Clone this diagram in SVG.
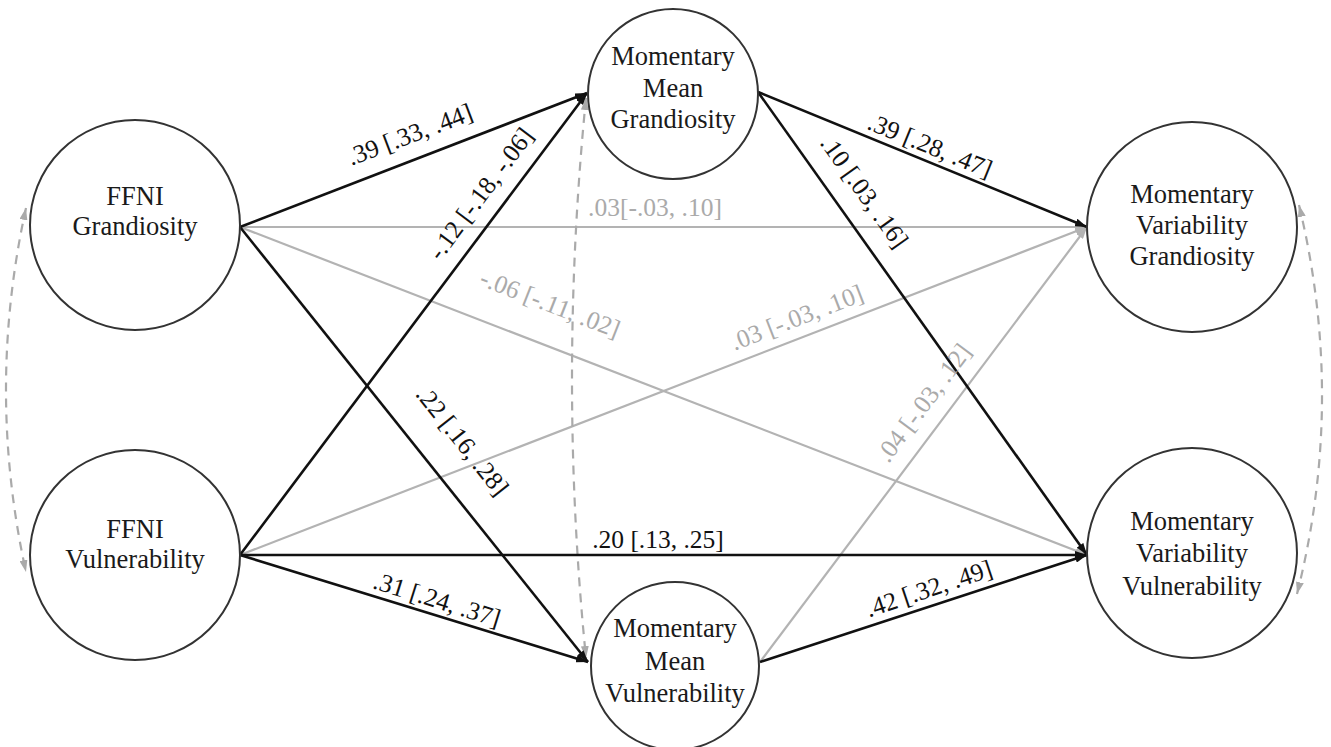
<svg xmlns="http://www.w3.org/2000/svg" width="1331" height="747" viewBox="0 0 1331 747">
  <style>
    .node circle { fill: #ffffff; stroke: #333333; stroke-width: 2; }
    .node text { font-family: "Liberation Serif", "Times New Roman", serif; font-size: 26.5px; fill: #1a1a1a; text-anchor: middle; }
    .sig { stroke: #111111; stroke-width: 2.6; fill: none; }
    .ns { stroke: #b3b3b3; stroke-width: 2.2; fill: none; }
    .cov { stroke: #aaaaaa; stroke-width: 2.2; fill: none; stroke-dasharray: 9 7; }
    .lbl { font-family: "Liberation Serif", "Times New Roman", serif; font-size: 25.5px; text-anchor: middle; fill: #111111; }
    .lbl.grey { fill: #aaaaaa; }
  </style>
  <defs>
    <marker id="arrowDark" viewBox="0 0 12 8" refX="12" refY="4" markerWidth="12" markerHeight="8" markerUnits="userSpaceOnUse" orient="auto">
      <path d="M0,0 L12,4 L0,8 z" fill="#111111"/>
    </marker>
    <marker id="arrowGrey" viewBox="0 0 12 8" refX="12" refY="4" markerWidth="12" markerHeight="8" markerUnits="userSpaceOnUse" orient="auto">
      <path d="M0,0 L12,4 L0,8 z" fill="#b3b3b3"/>
    </marker>
    <marker id="arrowCov" viewBox="0 0 12 8" refX="12" refY="4" markerWidth="12" markerHeight="8" markerUnits="userSpaceOnUse" orient="auto-start-reverse">
      <path d="M0,0 L12,4 L0,8 z" fill="#aaaaaa"/>
    </marker>
  </defs>

  <!-- paths between the latent variables -->
  <g id="connectors">
    <!-- non-significant paths (grey) -->
    <line class="ns" x1="240" y1="227" x2="1087" y2="227" marker-end="url(#arrowGrey)"/>
    <line class="ns" x1="240" y1="227" x2="1087" y2="555" marker-end="url(#arrowGrey)"/>
    <line class="ns" x1="240" y1="555" x2="1087" y2="227" marker-end="url(#arrowGrey)"/>
    <line class="ns" x1="760" y1="662" x2="1087" y2="227" marker-end="url(#arrowGrey)"/>

    <!-- covariances (dashed, two-headed) -->
    <path class="cov" d="M586,98 Q558,380 586,658" marker-start="url(#arrowCov)" marker-end="url(#arrowCov)"/>
    <path class="cov" d="M26,208 Q-14,390 26,572" marker-start="url(#arrowCov)" marker-end="url(#arrowCov)"/>
    <path class="cov" d="M1299,205 Q1346,400 1297,594" marker-start="url(#arrowCov)" marker-end="url(#arrowCov)"/>

    <!-- significant paths (black) -->
    <line class="sig" x1="240" y1="227" x2="587" y2="93" marker-end="url(#arrowDark)"/>
    <line class="sig" x1="240" y1="227" x2="588" y2="662" marker-end="url(#arrowDark)"/>
    <line class="sig" x1="240" y1="555" x2="587" y2="93" marker-end="url(#arrowDark)"/>
    <line class="sig" x1="240" y1="555" x2="588" y2="662" marker-end="url(#arrowDark)"/>
    <line class="sig" x1="240" y1="555" x2="1087" y2="555" marker-end="url(#arrowDark)"/>
    <line class="sig" x1="758" y1="92" x2="1087" y2="227" marker-end="url(#arrowDark)"/>
    <line class="sig" x1="758" y1="92" x2="1087" y2="555" marker-end="url(#arrowDark)"/>
    <line class="sig" x1="760" y1="662" x2="1087" y2="555" marker-end="url(#arrowDark)"/>

    <!-- coefficient labels -->
    <text class="lbl" transform="translate(410,135) rotate(-20.8)" y="8">.39 [.33, .44]</text>
    <text class="lbl" transform="translate(481,194) rotate(-53.1)" y="8">-.12 [-.18, -.06]</text>
    <text class="lbl grey" x="655" y="216">.03[-.03, .10]</text>
    <text class="lbl grey" transform="translate(550,304) rotate(21.3)" y="8">-.06 [-.11, .02]</text>
    <text class="lbl grey" transform="translate(797,318) rotate(-21.2)" y="8">.03 [-.03, .10]</text>
    <text class="lbl" transform="translate(462,441) rotate(51.5)" y="8">.22 [.16, .28]</text>
    <text class="lbl" x="658" y="548">.20 [.13, .25]</text>
    <text class="lbl" transform="translate(437,600) rotate(17.4)" y="8">.31 [.24, .37]</text>
    <text class="lbl" transform="translate(930,146) rotate(22.2)" y="8">.39 [.28, .47]</text>
    <text class="lbl" transform="translate(864,192) rotate(54.5)" y="8">.10 [.03, .16]</text>
    <text class="lbl grey" transform="translate(924,403) rotate(-53.2)" y="8">.04 [-.03, .12]</text>
    <text class="lbl" transform="translate(929,589) rotate(-18.5)" y="8">.42 [.32, .49]</text>
  </g>

  <g id="ffni-grandiosity" class="node">
    <circle cx="135" cy="225" r="105"/>
    <text x="135" y="205">FFNI</text>
    <text x="135" y="235">Grandiosity</text>
  </g>
  <g id="ffni-vulnerability" class="node">
    <circle cx="135" cy="555" r="105"/>
    <text x="135" y="538">FFNI</text>
    <text x="135" y="568">Vulnerability</text>
  </g>
  <g id="momentary-mean-grandiosity" class="node">
    <circle cx="673" cy="94" r="85"/>
    <text x="673" y="65">Momentary</text>
    <text x="673" y="97">Mean</text>
    <text x="673" y="128">Grandiosity</text>
  </g>
  <g id="momentary-mean-vulnerability" class="node">
    <circle cx="675" cy="666" r="84"/>
    <text x="675" y="637">Momentary</text>
    <text x="675" y="670">Mean</text>
    <text x="675" y="702">Vulnerability</text>
  </g>
  <g id="momentary-variability-grandiosity" class="node">
    <circle cx="1192" cy="227" r="105"/>
    <text x="1192" y="203">Momentary</text>
    <text x="1192" y="234">Variability</text>
    <text x="1192" y="265">Grandiosity</text>
  </g>
  <g id="momentary-variability-vulnerability" class="node">
    <circle cx="1192" cy="553" r="105"/>
    <text x="1192" y="530">Momentary</text>
    <text x="1192" y="562">Variability</text>
    <text x="1192" y="595">Vulnerability</text>
  </g>
</svg>
